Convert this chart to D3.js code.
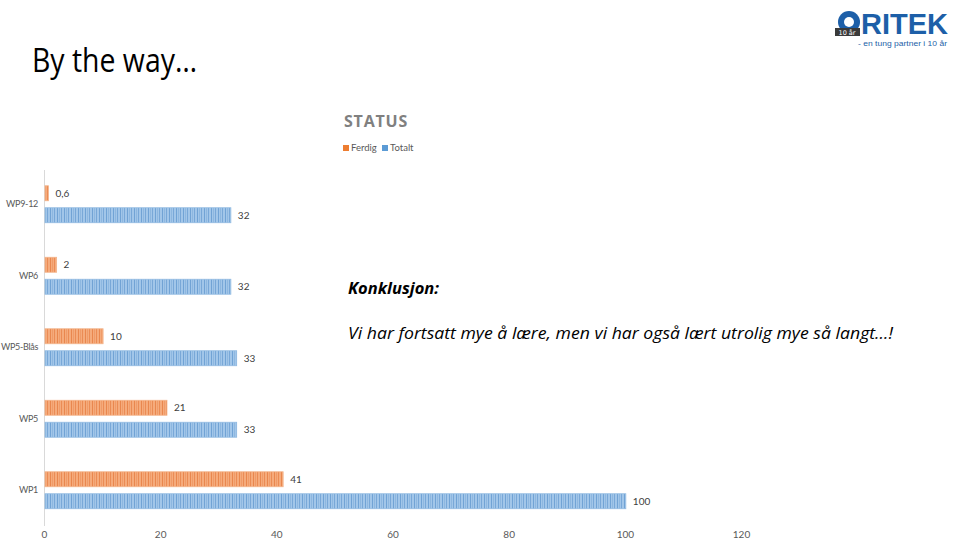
<!DOCTYPE html>
<html><head><meta charset="utf-8">
<script src="https://cdn.jsdelivr.net/npm/d3@7"></script>
<style>body{margin:0;background:#fff}svg{display:block}</style>
</head><body>
<script>
const categories = ["WP9-12","WP6","WP5-Blås","WP5","WP1"];
const seriesNames = ["Ferdig","Totalt"];
const ferdig = [0.6, 2, 10, 21, 41];
const totalt = [32, 32, 33, 33, 100];
const ferdigLabels = ["0,6","2","10","21","41"];
const totaltLabels = ["32","32","33","33","100"];
const xTicks = [0,20,40,60,80,100,120];

const W=960,H=541;
const svg=d3.select("body").append("svg").attr("width",W).attr("height",H);
const defs=svg.append("defs");
function pat(id,bg,fg){
  const p=defs.append("pattern").attr("id",id).attr("patternUnits","userSpaceOnUse").attr("width",7).attr("height",10);
  p.append("rect").attr("width",7).attr("height",10).attr("fill",bg);
  p.append("rect").attr("x",1).attr("width",1).attr("height",10).attr("fill",fg).attr("opacity",0.7);
  p.append("rect").attr("x",3).attr("width",0.7).attr("height",10).attr("fill",fg).attr("opacity",0.45);
  p.append("rect").attr("x",5).attr("width",1).attr("height",10).attr("fill",fg).attr("opacity",0.6);
}
pat("pO","#f5ab7c","#e4783a");
pat("pB","#a2c6e9","#5d95cd");
const fills={Ferdig:"url(#pO)",Totalt:"url(#pB)"};
const strokes={Ferdig:"#f3b48b",Totalt:"#92bbe2"};
const legendCol={Ferdig:"#ed7d31",Totalt:"#5b9bd5"};

// Title
svg.append("text").attr("x",32).attr("y",72).attr("font-family","Open Sans").attr("font-weight",400)
  .attr("font-size",32).attr("fill","#000").attr("textLength",165).attr("lengthAdjust","spacingAndGlyphs").text("By the way…");

// Logo
const lg=svg.append("g");
lg.append("circle").attr("cx",849).attr("cy",22).attr("r",11).attr("fill","#1d5fa8");
lg.append("circle").attr("cx",849).attr("cy",22).attr("r",5).attr("fill","#fff");
lg.append("rect").attr("x",835).attr("y",28).attr("width",25).attr("height",8).attr("fill","#3a3a3a");
lg.append("text").attr("x",847).attr("y",35).attr("text-anchor","middle").attr("font-family","DejaVu Sans").attr("font-size",6.5).attr("fill","#fff").text("10 år");
lg.append("text").attr("x",861).attr("y",34).attr("font-family","Liberation Sans").attr("font-weight","bold")
  .attr("font-size",29).attr("fill","#1d5fa8").attr("textLength",87).attr("lengthAdjust","spacingAndGlyphs").text("RITEK");
lg.append("text").attr("x",947).attr("y",46).attr("text-anchor","end").attr("font-family","Liberation Sans")
  .attr("font-size",7).attr("fill","#1d5fa8").attr("textLength",89).attr("lengthAdjust","spacingAndGlyphs").text("- en tung partner i 10 år");

// Chart title & legend
svg.append("text").attr("x",376).attr("y",127).attr("text-anchor","middle").attr("font-family","Open Sans")
  .attr("font-weight","bold").attr("font-size",16).attr("fill","#808080").attr("letter-spacing",0.8).text("STATUS");
const leg=svg.append("g");
const legX=[343,382];
seriesNames.forEach((s,i)=>{
  leg.append("rect").attr("x",legX[i]).attr("y",145).attr("width",6).attr("height",6).attr("fill",legendCol[s]);
  leg.append("text").attr("x",legX[i]+8).attr("y",151).attr("font-family","Lato").attr("font-size",9.5).attr("fill","#595959").text(s);
});

// Scales
const x=d3.scaleLinear().domain([0,120]).range([44,741]);
const y0=d3.scaleBand().domain(categories).range([168.5,526]).paddingInner(0.483).paddingOuter(0.2415);
const y1=d3.scaleBand().domain(seriesNames).range([0,y0.bandwidth()]).paddingInner(0.318);

const data=categories.map((c,i)=>({cat:c,vals:[{s:"Ferdig",v:ferdig[i],l:ferdigLabels[i]},{s:"Totalt",v:totalt[i],l:totaltLabels[i]}]}));

// Axis
const xAxis=d3.axisBottom(x).tickValues(xTicks).tickSize(0).tickPadding(0).tickFormat(d3.format("d"));
const ax=svg.append("g").attr("transform","translate(0,531)").call(xAxis);
ax.select(".domain").remove();
ax.selectAll("text").attr("font-family","Lato").attr("font-size",10).attr("fill","#595959").attr("dy","0.71em");

const yAxis=d3.axisLeft(y0).tickSize(0).tickPadding(6);
const ay=svg.append("g").attr("transform",`translate(${x(0)},0)`).call(yAxis);
ay.select(".domain").attr("stroke","#d9d9d9").attr("d","M0.5,170V526");
ay.selectAll("text").attr("font-family","Lato").attr("font-size",9).attr("letter-spacing",-0.3).attr("fill","#595959");

const g=svg.selectAll("g.grp").data(data).enter().append("g").attr("class","grp")
  .attr("transform",d=>`translate(0,${y0(d.cat)})`);
g.selectAll("rect").data(d=>d.vals).enter().append("rect")
  .attr("x",x(0)+1).attr("y",d=>y1(d.s)).attr("width",d=>x(d.v)-x(0)).attr("height",y1.bandwidth())
  .attr("fill",d=>fills[d.s]).attr("stroke",d=>strokes[d.s]).attr("stroke-width",0.8);
g.selectAll("text.lbl").data(d=>d.vals).enter().append("text").attr("class","lbl")
  .attr("x",d=>x(d.v)+8).attr("y",d=>y1(d.s)+y1.bandwidth()/2).attr("dy","0.35em")
  .attr("font-family","Lato").attr("font-size",10).attr("fill","#404040").text(d=>d.l);

// Conclusion text
svg.append("text").attr("x",348).attr("y",294).attr("font-family","Open Sans").attr("font-style","italic").attr("font-weight","bold")
  .attr("font-size",16.5).attr("fill","#000").text("Konklusjon:");
svg.append("text").attr("x",348).attr("y",339).attr("font-family","Open Sans").attr("font-style","italic")
  .attr("font-size",16.5).attr("fill","#000").attr("textLength",545).attr("lengthAdjust","spacingAndGlyphs")
  .text("Vi har fortsatt mye å lære, men vi har også lært utrolig mye så langt…!");
</script>
</body></html>
